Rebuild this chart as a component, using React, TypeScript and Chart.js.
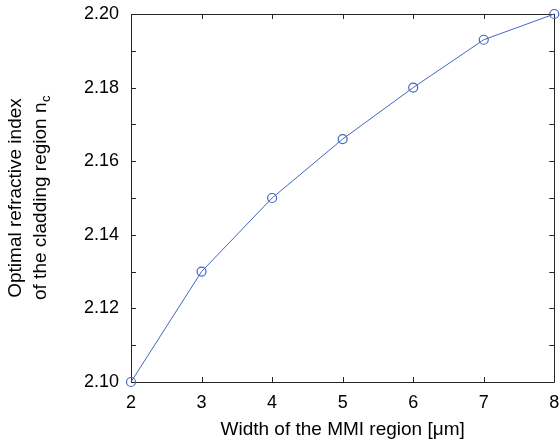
import { useEffect, useRef } from "react";
import { Chart, registerables } from "chart.js";

Chart.register(...registerables);

// ---- data ----
const mmiWidths = [2, 3, 4, 5, 6, 7, 8];
const claddingIndex = [2.1, 2.13, 2.15, 2.166, 2.18, 2.193, 2.2];
const xMin = 2;
const xMax = 8;
const yMin = 2.1;
const yMax = 2.2;
const yMinorStep = 0.01;
const xStep = 1;
const yTitleLine1 = "Optimal refractive index";
const yTitleLine2 = "of the cladding region n";
const yTitleSub = "c";
const xTitle = "Width of the MMI region [\u03bcm]";

const FONT = "'Liberation Sans', Arial, Helvetica, sans-serif";
const FRAME = "#262626";
const LINE = "#4466c0";

const framePlugin = {
  id: "frameTicks",
  beforeDatasetsDraw(chart: any) {
    const { ctx, chartArea } = chart;
    const { left, right, top, bottom } = chartArea;
    const xs = chart.scales.x;
    const ys = chart.scales.y;
    const tl = 5;
    ctx.save();
    ctx.strokeStyle = FRAME;
    ctx.lineWidth = 1;
    ctx.beginPath();
    ctx.rect(Math.round(left) + 0.5, Math.round(top) + 0.5, Math.round(right - left), Math.round(bottom - top));
    ctx.stroke();
    ctx.beginPath();
    xs.ticks.forEach((t: any) => {
      const px = Math.round(xs.getPixelForValue(t.value)) + 0.5;
      ctx.moveTo(px, bottom);
      ctx.lineTo(px, bottom - tl);
      ctx.moveTo(px, top);
      ctx.lineTo(px, top + tl);
    });
    ys.ticks.forEach((t: any) => {
      const py = Math.round(ys.getPixelForValue(t.value)) + 0.5;
      ctx.moveTo(left, py);
      ctx.lineTo(left + tl, py);
      ctx.moveTo(right, py);
      ctx.lineTo(right - tl, py);
    });
    ctx.stroke();
    ctx.restore();
  },
  afterDraw(chart: any) {
    const { ctx, chartArea } = chart;
    const cy = (chartArea.top + chartArea.bottom) / 2;
    ctx.save();
    ctx.fillStyle = "#000";
    ctx.translate(16, cy);
    ctx.rotate(-Math.PI / 2);
    ctx.textBaseline = "middle";
    ctx.font = `19px ${FONT}`;
    ctx.textAlign = "center";
    ctx.fillText(yTitleLine1, 0, 0);
    const w1 = ctx.measureText(yTitleLine2).width;
    ctx.font = `13px ${FONT}`;
    const w2 = ctx.measureText(yTitleSub).width;
    const start = -(w1 + w2) / 2;
    ctx.textAlign = "left";
    ctx.font = `19px ${FONT}`;
    ctx.fillText(yTitleLine2, start, 25);
    ctx.font = `13px ${FONT}`;
    ctx.fillText(yTitleSub, start + w1 + 0.5, 30);
    ctx.restore();
  },
};

export default function App() {
  const ref = useRef<HTMLCanvasElement | null>(null);
  useEffect(() => {
    document.body.style.margin = "0";
    const canvas = ref.current;
    if (!canvas) return;
    const chart = new Chart(canvas, {
      type: "line",
      data: {
        datasets: [
          {
            data: mmiWidths.map((x, i) => ({ x, y: claddingIndex[i] })),
            borderColor: LINE,
            borderWidth: 1,
            pointStyle: "circle",
            pointRadius: 4.5,
            pointBorderWidth: 1.2,
            pointBorderColor: LINE,
            pointBackgroundColor: "rgba(0,0,0,0)",
            tension: 0,
            clip: false as any,
          },
        ],
      },
      options: {
        animation: false,
        responsive: false,
        maintainAspectRatio: false,
        layout: { padding: { top: 14, right: 3, left: 0, bottom: 0 } },
        plugins: { legend: { display: false }, tooltip: { enabled: false } },
        scales: {
          x: {
            type: "linear",
            min: xMin,
            max: xMax,
            border: { display: false },
            grid: { display: false, drawTicks: false },
            ticks: {
              stepSize: xStep,
              padding: 10,
              color: "#000",
              font: { family: FONT, size: 18 },
              maxRotation: 0,
            },
            title: {
              display: true,
              text: xTitle,
              color: "#000",
              font: { family: FONT, size: 19 },
              padding: { top: 0, bottom: 4 },
            },
            afterFit(scale: any) {
              scale.height = 63;
              scale.paddingLeft = 0;
              scale.paddingRight = 0;
            },
          },
          y: {
            type: "linear",
            min: yMin,
            max: yMax,
            border: { display: false },
            grid: { display: false, drawTicks: false },
            ticks: {
              stepSize: yMinorStep,
              padding: 12,
              color: "#000",
              font: { family: FONT, size: 18 },
              callback: (v: any) => {
                const n = Math.round(Number(v) * 100);
                return n % 2 === 0 ? (n / 100).toFixed(2) : "";
              },
            },
            afterFit(scale: any) {
              scale.width = 131;
              scale.paddingTop = 0;
              scale.paddingBottom = 0;
            },
          },
        },
      },
      plugins: [framePlugin],
    });
    return () => chart.destroy();
  }, []);
  return (
    <div style={{ width: 560, height: 445, background: "#fff" }}>
      <canvas ref={ref} width={560} height={445} style={{ display: "block" }} />
    </div>
  );
}
